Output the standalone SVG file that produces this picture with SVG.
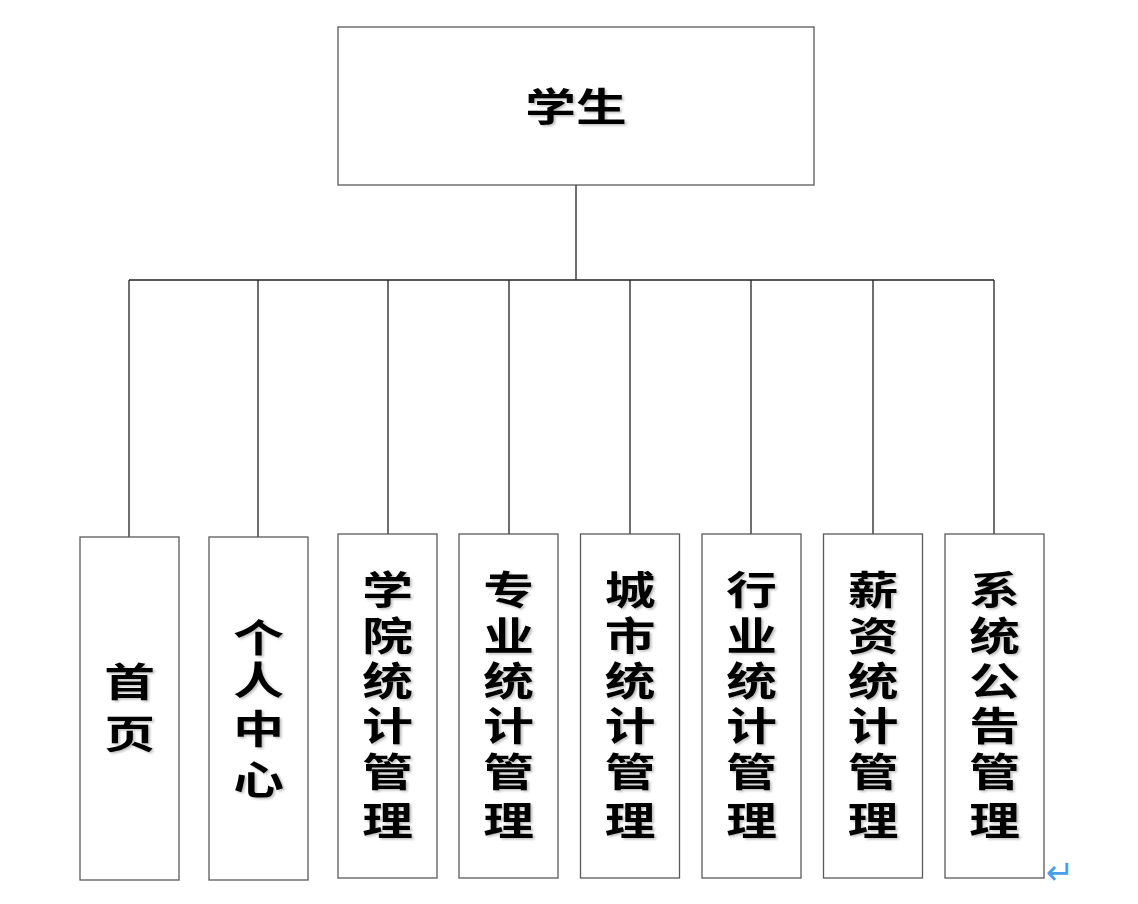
<svg xmlns="http://www.w3.org/2000/svg" width="1138" height="904" viewBox="0 0 1138 904">
<style>
.box{fill:#fff;stroke:#5a5a5a;stroke-width:1.3}
.ln{fill:none;stroke:#222;stroke-width:1.3}
.t{font-family:"Liberation Sans","Noto Sans CJK SC",sans-serif;font-size:39px;font-weight:700;fill:#000;text-anchor:middle;filter:url(#sh)}
.rt{font-family:"DejaVu Sans",sans-serif;font-size:34px;fill:#4a9fe8}
</style>
<defs>
<filter id="sh" x="-20%" y="-20%" width="140%" height="140%">
<feDropShadow dx="1.5" dy="1.5" stdDeviation="1" flood-color="#000" flood-opacity="0.25"/>
</filter>
</defs>
<g id="connectors">
<path class="ln" d="M576 185V280M129 280H994M129 280V537M258 280V537M388 280V534M509 280V534M630 280V534M751 280V534M873 280V534M994 280V534"/>
</g>
<g id="n0">
<rect class="box" x="338" y="27" width="476" height="158"/>
<text class="t" transform="translate(576,0) scale(1.3,1)" x="0" y="121">学生</text>
</g>
<g id="n1">
<rect class="box" x="80" y="537" width="99" height="343"/>
<g class="t" transform="translate(129.5,0) scale(1.3,1)"><text x="0" y="696">首</text><text x="0" y="748">页</text></g>
</g>
<g id="n2">
<rect class="box" x="209" y="537" width="99" height="343"/>
<g class="t" transform="translate(258.5,0) scale(1.3,1)"><text x="0" y="652">个</text><text x="0" y="694">人</text><text x="0" y="743">中</text><text x="0" y="794">心</text></g>
</g>
<g id="n3">
<rect class="box" x="338" y="534" width="99" height="344"/>
<g class="t" transform="translate(387.5,0) scale(1.3,1)"><text x="0" y="604">学</text><text x="0" y="650">院</text><text x="0" y="695">统</text><text x="0" y="740">计</text><text x="0" y="786">管</text><text x="0" y="835">理</text></g>
</g>
<g id="n4">
<rect class="box" x="459" y="534" width="99" height="344"/>
<g class="t" transform="translate(508.5,0) scale(1.3,1)"><text x="0" y="604">专</text><text x="0" y="650">业</text><text x="0" y="695">统</text><text x="0" y="740">计</text><text x="0" y="786">管</text><text x="0" y="835">理</text></g>
</g>
<g id="n5">
<rect class="box" x="580.5" y="534" width="99" height="344"/>
<g class="t" transform="translate(630,0) scale(1.3,1)"><text x="0" y="604">城</text><text x="0" y="650">市</text><text x="0" y="695">统</text><text x="0" y="740">计</text><text x="0" y="786">管</text><text x="0" y="835">理</text></g>
</g>
<g id="n6">
<rect class="box" x="702" y="534" width="99" height="344"/>
<g class="t" transform="translate(751.5,0) scale(1.3,1)"><text x="0" y="604">行</text><text x="0" y="650">业</text><text x="0" y="695">统</text><text x="0" y="740">计</text><text x="0" y="786">管</text><text x="0" y="835">理</text></g>
</g>
<g id="n7">
<rect class="box" x="823.5" y="534" width="99" height="344"/>
<g class="t" transform="translate(873,0) scale(1.3,1)"><text x="0" y="604">薪</text><text x="0" y="650">资</text><text x="0" y="695">统</text><text x="0" y="740">计</text><text x="0" y="786">管</text><text x="0" y="835">理</text></g>
</g>
<g id="n8">
<rect class="box" x="945" y="534" width="99" height="344"/>
<g class="t" transform="translate(994.5,0) scale(1.3,1)"><text x="0" y="604">系</text><text x="0" y="650">统</text><text x="0" y="695">公</text><text x="0" y="740">告</text><text x="0" y="786">管</text><text x="0" y="835">理</text></g>
</g>
<text class="rt" x="1046" y="884">↵</text>
</svg>
